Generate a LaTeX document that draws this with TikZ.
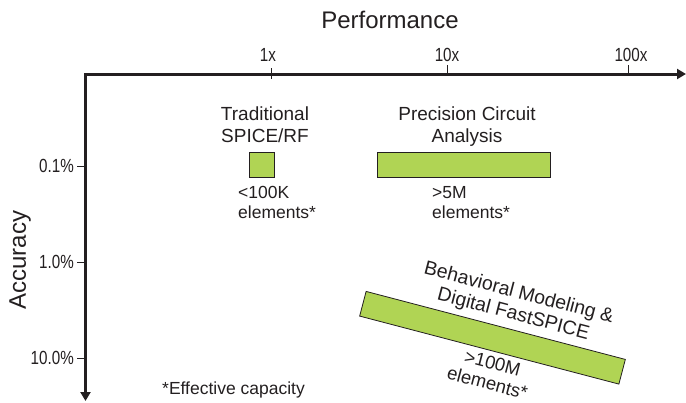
\documentclass[tikz,border=0pt]{standalone}
\usepackage{fontspec}
\setmainfont{Liberation Sans}
\newfontfamily\condf[FakeStretch=0.8]{Liberation Sans}
\usetikzlibrary{arrows.meta}
\definecolor{axisc}{HTML}{231F20}
\definecolor{barc}{RGB}{176,212,84}
\tikzset{
  axisline/.style={line width=3pt, draw=axisc, line join=miter},
  tickline/.style={line width=1pt, draw=axisc},
  bar/.style={draw=axisc, line width=0.8pt, fill=barc, inner sep=0pt, rectangle},
  ticklab/.style={font=\condf\fontsize{19}{22}\selectfont, text=axisc, inner sep=0pt},
  lab/.style={font=\fontsize{19}{22.5}\selectfont, text=axisc, inner sep=0pt, align=center},
  smalllab/.style={font=\fontsize{17.5}{20.5}\selectfont, text=axisc, inner sep=0pt, align=left},
  title/.style={font=\fontsize{24}{28}\selectfont, text=axisc, inner sep=0pt}
}
\begin{document}
\begin{tikzpicture}[x=1pt,y=-1pt]
\useasboundingbox (0,0) rectangle (686,402);
% axes
\coordinate (org) at (85.5,74);
\coordinate (xend) at (686,74);
\coordinate (yend) at (85.5,401);
\draw[axisline,{Triangle[width=10pt,length=9pt]}-{Triangle[width=10pt,length=9pt]}] (yend) -- (org) -- (xend);
% x ticks
\coordinate (t1a) at (271,68); \coordinate (t1b) at (271,79);
\coordinate (t2a) at (447,65); \coordinate (t2b) at (447,73);
\coordinate (t3a) at (628,65); \coordinate (t3b) at (628,73);
\draw[tickline] (t1a) -- (t1b);
\draw[tickline] (t2a) -- (t2b);
\draw[tickline] (t3a) -- (t3b);
\node[ticklab, anchor=base] (l1x) at (268,61) {1x};
\node[ticklab, anchor=base] (l10x) at (447,61) {10x};
\node[ticklab, anchor=base] (l100x) at (631,61) {100x};
% y ticks
\coordinate (y1a) at (77,166); \coordinate (y1b) at (85,166);
\coordinate (y2a) at (77,262); \coordinate (y2b) at (85,262);
\coordinate (y3a) at (77,358); \coordinate (y3b) at (85,358);
\draw[tickline] (y1a) -- (y1b);
\draw[tickline] (y2a) -- (y2b);
\draw[tickline] (y3a) -- (y3b);
\node[ticklab, anchor=base east] (ly1) at (74,172) {0.1\%};
\node[ticklab, anchor=base east] (ly2) at (74,268) {1.0\%};
\node[ticklab, anchor=base east] (ly3) at (74,364) {10.0\%};
% titles
\node[title, anchor=base] (perf) at (390,28) {Performance};
\node[title, rotate=90] (acc) at (20,260) {Accuracy};
% traditional
\node[lab, anchor=north] (tradt) at (265,106.5) {Traditional\\SPICE/RF};
\node[bar, minimum width=25pt, minimum height=25pt] (tradb) at (261.5,164.5) {};
\node[smalllab, anchor=north west] (tradn) at (238,186) {<100K\\elements*};
% precision
\node[lab, anchor=north] (prect) at (467,106.5) {Precision Circuit\\Analysis};
\node[bar, minimum width=173pt, minimum height=25pt] (precb) at (463.5,164.5) {};
\node[smalllab, anchor=north west] (precn) at (432,186) {>5M\\elements*};
% behavioral
\node[bar, minimum width=268pt, minimum height=25.5pt, rotate=-14.7] (behb) at (492.5,337.75) {};
\node[lab, rotate=-14.7, font=\fontsize{19.5}{22}\selectfont] (beht) at (516,304) {Behavioral Modeling \&\\Digital FastSPICE};
\node[lab, rotate=-14.7, font=\fontsize{18.5}{20.5}\selectfont] (behn) at (490,373) {>100M\\elements*};
% footnote
\node[smalllab, anchor=north west] (foot) at (162,382) {*Effective capacity};
\end{tikzpicture}
\end{document}
